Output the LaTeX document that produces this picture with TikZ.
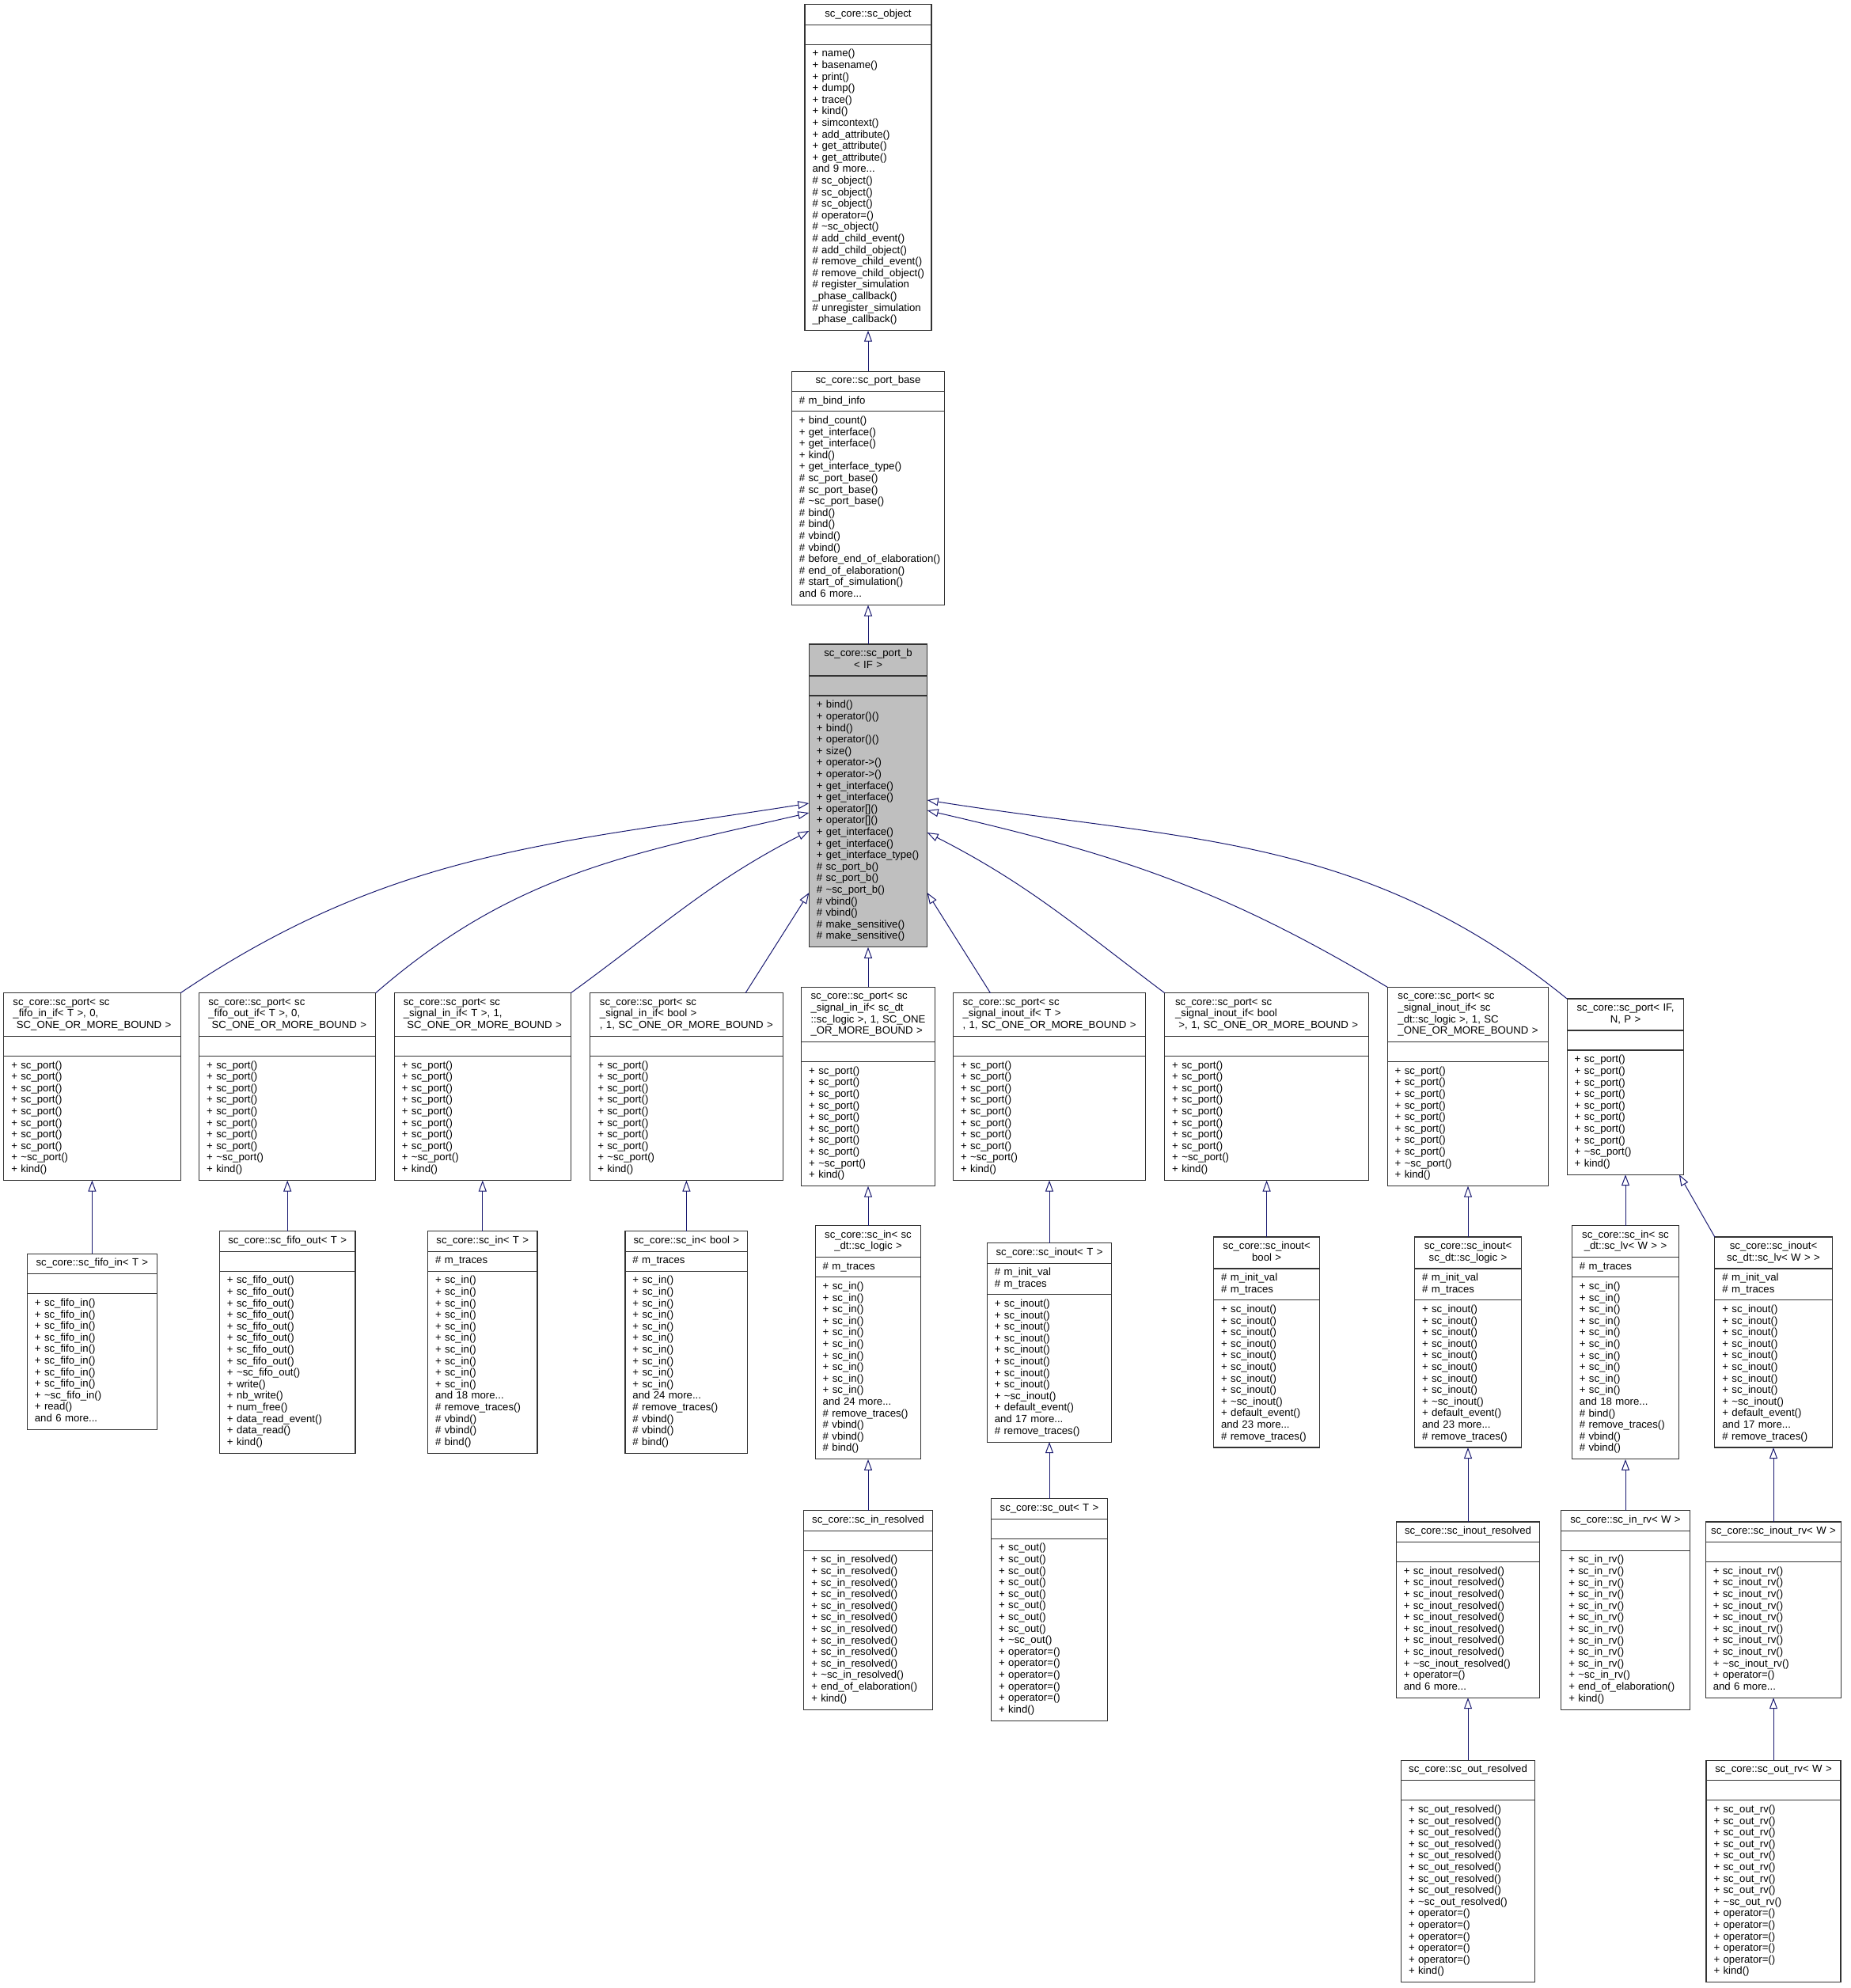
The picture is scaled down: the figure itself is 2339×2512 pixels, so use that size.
\documentclass[tikz,border=0pt]{standalone}
\usepackage{fontspec}
\setmainfont{Liberation Sans}
\usepackage{tikz}
\usetikzlibrary{arrows.meta}
\definecolor{edgeblue}{HTML}{191970}

\newcommand{\rows}[1]{\begin{tabular}{@{}l@{}}#1\end{tabular}}
\newcommand{\crows}[1]{\begin{tabular}{@{}c@{}}#1\end{tabular}}
\newcommand{\eightof}[1]{#1\\#1\\#1\\#1\\#1\\#1\\#1\\#1}
\newcommand{\tenof}[1]{\eightof{#1}\\#1\\#1}
\newcommand{\portops}{\eightof{+ sc\_port()}\\+ \textasciitilde sc\_port()\\+ kind()}
\newcommand{\umlclass}[7][]{%
  \pgfmathsetmacro{\tw}{#4-8}%
  \pgfmathsetmacro{\mw}{#4-19}%
  \node[clstitle,text width=\tw pt,anchor=north,#1] (#2) at (#3) {#5};
  \node[clsbody,text width=\mw pt,anchor=north,inner ysep=5.2pt,#1] (#2a) at (#2.south) {\rows{\strut#6}};
  \node[clsbody,text width=\mw pt,anchor=north,inner ysep=5.6pt,#1] (#2m) at (#2a.south) {\rows{#7}};
}

\begin{document}
\begin{tikzpicture}[x=1pt,y=-1pt,font=\fontsize{13.2}{14.6}\selectfont,
  clstitle/.style={draw=black!80,line width=1.1pt,fill=white,inner xsep=4pt,inner ysep=5.4pt,outer sep=0pt,align=center},
  clsbody/.style={draw=black!80,line width=1.1pt,fill=white,inner xsep=9.5pt,outer sep=0pt,align=left},
  inherit/.style={draw=edgeblue,line width=1pt,-{Triangle[open,length=14pt,width=10pt]}}]
\useasboundingbox (0,0) rectangle (2339,2512);

\umlclass{obj}{1097,5.7}{160}{\crows{sc\_core::sc\_object}}{}{%
+ name()\\+ basename()\\+ print()\\+ dump()\\+ trace()\\+ kind()\\+ simcontext()\\
+ add\_attribute()\\+ get\_attribute()\\+ get\_attribute()\\and 9 more...\\
\# sc\_object()\\\# sc\_object()\\\# sc\_object()\\\# operator=()\\\# \textasciitilde sc\_object()\\
\# add\_child\_event()\\\# add\_child\_object()\\\# remove\_child\_event()\\\# remove\_child\_object()\\
\# register\_simulation\\\_phase\_callback()\\\# unregister\_simulation\\\_phase\_callback()}
\umlclass{portbase}{1097,469.3}{193.3}{\crows{sc\_core::sc\_port\_base}}{\# m\_bind\_info}{%
+ bind\_count()\\+ get\_interface()\\+ get\_interface()\\+ kind()\\+ get\_interface\_type()\\
\# sc\_port\_base()\\\# sc\_port\_base()\\\# \textasciitilde sc\_port\_base()\\\# bind()\\\# bind()\\
\# vbind()\\\# vbind()\\\# before\_end\_of\_elaboration()\\\# end\_of\_elaboration()\\
\# start\_of\_simulation()\\and 6 more...}
\umlclass[fill=gray!50]{portb}{1097,814}{149.4}{\crows{sc\_core::sc\_port\_b\\< IF >}}{}{%
+ bind()\\+ operator()()\\+ bind()\\+ operator()()\\+ size()\\+ operator->()\\+ operator->()\\
+ get\_interface()\\+ get\_interface()\\+ operator[]()\\+ operator[]()\\+ get\_interface()\\
+ get\_interface()\\+ get\_interface\_type()\\\# sc\_port\_b()\\\# sc\_port\_b()\\
\# \textasciitilde sc\_port\_b()\\\# vbind()\\\# vbind()\\\# make\_sensitive()\\\# make\_sensitive()}

\umlclass{pfifoin}{116.4,1254.7}{223.3}{\rows{sc\_core::sc\_port< sc\\\_fifo\_in\_if< T >, 0,\\\ SC\_ONE\_OR\_MORE\_BOUND >}}{}{\portops}
\umlclass{pfifoout}{363.2,1254.7}{223}{\rows{sc\_core::sc\_port< sc\\\_fifo\_out\_if< T >, 0,\\\ SC\_ONE\_OR\_MORE\_BOUND >}}{}{\portops}
\umlclass{psigin}{609.8,1254.7}{223}{\rows{sc\_core::sc\_port< sc\\\_signal\_in\_if< T >, 1,\\\ SC\_ONE\_OR\_MORE\_BOUND >}}{}{\portops}
\umlclass{psiginbool}{867.4,1254.7}{243.3}{\rows{sc\_core::sc\_port< sc\\\_signal\_in\_if< bool >\\, 1, SC\_ONE\_OR\_MORE\_BOUND >}}{}{\portops}
\umlclass{psiginlogic}{1097,1247.3}{168.7}{\rows{sc\_core::sc\_port< sc\\\_signal\_in\_if< sc\_dt\\::sc\_logic >, 1, SC\_ONE\\\_OR\_MORE\_BOUND >}}{}{\portops}
\umlclass{psiginout}{1326,1254.7}{243}{\rows{sc\_core::sc\_port< sc\\\_signal\_inout\_if< T >\\, 1, SC\_ONE\_OR\_MORE\_BOUND >}}{}{\portops}
\umlclass{psiginoutbool}{1600.6,1254.7}{257.8}{\rows{sc\_core::sc\_port< sc\\\_signal\_inout\_if< bool\\\ >, 1, SC\_ONE\_OR\_MORE\_BOUND >}}{}{\portops}
\umlclass{psiginoutlogic}{1855,1247.3}{203.7}{\rows{sc\_core::sc\_port< sc\\\_signal\_inout\_if< sc\\\_dt::sc\_logic >, 1, SC\\\_ONE\_OR\_MORE\_BOUND >}}{}{\portops}
\umlclass{pgeneric}{2054,1262}{147.7}{\crows{sc\_core::sc\_port< IF,\\N, P >}}{}{\portops}

\umlclass{fifoin}{116.4,1584.3}{164}{\crows{sc\_core::sc\_fifo\_in< T >}}{}{\eightof{+ sc\_fifo\_in()}\\+ \textasciitilde sc\_fifo\_in()\\+ read()\\and 6 more...}
\umlclass{fifoout}{363.2,1555.7}{171.5}{\crows{sc\_core::sc\_fifo\_out< T >}}{}{\eightof{+ sc\_fifo\_out()}\\+ \textasciitilde sc\_fifo\_out()\\+ write()\\+ nb\_write()\\+ num\_free()\\+ data\_read\_event()\\+ data\_read()\\+ kind()}
\umlclass{scin}{609.8,1555.7}{138.4}{\crows{sc\_core::sc\_in< T >}}{\# m\_traces}{\tenof{+ sc\_in()}\\and 18 more...\\\# remove\_traces()\\\# vbind()\\\# vbind()\\\# bind()}
\umlclass{scinbool}{867.4,1555.7}{154.9}{\crows{sc\_core::sc\_in< bool >}}{\# m\_traces}{\tenof{+ sc\_in()}\\and 24 more...\\\# remove\_traces()\\\# vbind()\\\# vbind()\\\# bind()}
\umlclass{scinlogic}{1097,1548.7}{133.6}{\crows{sc\_core::sc\_in< sc\\\_dt::sc\_logic >}}{\# m\_traces}{\tenof{+ sc\_in()}\\and 24 more...\\\# remove\_traces()\\\# vbind()\\\# vbind()\\\# bind()}
\umlclass{scinout}{1326,1570.7}{157.4}{\crows{sc\_core::sc\_inout< T >}}{\# m\_init\_val\\\# m\_traces}{\eightof{+ sc\_inout()}\\+ \textasciitilde sc\_inout()\\+ default\_event()\\and 17 more...\\\# remove\_traces()}
\umlclass{scinoutbool}{1600.6,1563}{134.1}{\crows{sc\_core::sc\_inout<\\bool >}}{\# m\_init\_val\\\# m\_traces}{\eightof{+ sc\_inout()}\\+ \textasciitilde sc\_inout()\\+ default\_event()\\and 23 more...\\\# remove\_traces()}
\umlclass{scinoutlogic}{1855,1563}{135}{\crows{sc\_core::sc\_inout<\\sc\_dt::sc\_logic >}}{\# m\_init\_val\\\# m\_traces}{\eightof{+ sc\_inout()}\\+ \textasciitilde sc\_inout()\\+ default\_event()\\and 23 more...\\\# remove\_traces()}
\umlclass{scinlv}{2054,1548.7}{135.3}{\crows{sc\_core::sc\_in< sc\\\_dt::sc\_lv< W > >}}{\# m\_traces}{\tenof{+ sc\_in()}\\and 18 more...\\\# bind()\\\# remove\_traces()\\\# vbind()\\\# vbind()}
\umlclass{scinoutlv}{2241,1563}{148.3}{\crows{sc\_core::sc\_inout<\\sc\_dt::sc\_lv< W > >}}{\# m\_init\_val\\\# m\_traces}{\eightof{+ sc\_inout()}\\+ \textasciitilde sc\_inout()\\+ default\_event()\\and 17 more...\\\# remove\_traces()}

\umlclass{scinresolved}{1097,1908.7}{162.5}{\crows{sc\_core::sc\_in\_resolved}}{}{\tenof{+ sc\_in\_resolved()}\\+ \textasciitilde sc\_in\_resolved()\\+ end\_of\_elaboration()\\+ kind()}
\umlclass{scout}{1326,1893.7}{146.9}{\crows{sc\_core::sc\_out< T >}}{}{\eightof{+ sc\_out()}\\+ \textasciitilde sc\_out()\\+ operator=()\\+ operator=()\\+ operator=()\\+ operator=()\\+ operator=()\\+ kind()}
\umlclass{scinoutresolved}{1855,1923}{181.5}{\crows{sc\_core::sc\_inout\_resolved}}{}{\eightof{+ sc\_inout\_resolved()}\\+ \textasciitilde sc\_inout\_resolved()\\+ operator=()\\and 6 more...}
\umlclass{scinrv}{2054,1908.7}{162.5}{\crows{sc\_core::sc\_in\_rv< W >}}{}{\tenof{+ sc\_in\_rv()}\\+ \textasciitilde sc\_in\_rv()\\+ end\_of\_elaboration()\\+ kind()}
\umlclass{scinoutrv}{2241,1923}{171.5}{\crows{sc\_core::sc\_inout\_rv< W >}}{}{\eightof{+ sc\_inout\_rv()}\\+ \textasciitilde sc\_inout\_rv()\\+ operator=()\\and 6 more...}

\umlclass{scoutresolved}{1855,2224.3}{169}{\crows{sc\_core::sc\_out\_resolved}}{}{\eightof{+ sc\_out\_resolved()}\\+ \textasciitilde sc\_out\_resolved()\\+ operator=()\\+ operator=()\\+ operator=()\\+ operator=()\\+ operator=()\\+ kind()}
\umlclass{scoutrv}{2241,2224.3}{170}{\crows{sc\_core::sc\_out\_rv< W >}}{}{\eightof{+ sc\_out\_rv()}\\+ \textasciitilde sc\_out\_rv()\\+ operator=()\\+ operator=()\\+ operator=()\\+ operator=()\\+ operator=()\\+ kind()}

\draw[inherit] (portbase.north) -- (objm.south);
\draw[inherit] (portb.north) -- (portbasem.south);
\draw[inherit] (pfifoin.north east) to[out=34,in=189] ([yshift=-201pt]portb.north west);
\draw[inherit] (pfifoout.north east) to[out=41,in=193] ([yshift=-213pt]portb.north west);
\draw[inherit] (psigin.north east) to[out=36,in=207] ([yshift=-236pt]portb.north west);
\draw[inherit] ([xshift=-47pt]psiginbool.north east) -- ([yshift=-314pt]portb.north west);
\draw[inherit] (psiginlogic.north) -- (portbm.south);
\draw[inherit] ([xshift=47pt]psiginout.north west) -- ([yshift=-314pt]portb.north east);
\draw[inherit] (psiginoutbool.north west) to[out=143,in=333] ([yshift=-238pt]portb.north east);
\draw[inherit] (psiginoutlogic.north west) to[out=149,in=347] ([yshift=-210pt]portb.north east);
\draw[inherit] (pgeneric.north west) to[out=141,in=351] ([yshift=-197pt]portb.north east);
\draw[inherit] (fifoin.north) -- (pfifoinm.south);
\draw[inherit] (fifoout.north) -- (pfifooutm.south);
\draw[inherit] (scin.north) -- (psiginm.south);
\draw[inherit] (scinbool.north) -- (psiginboolm.south);
\draw[inherit] (scinlogic.north) -- (psiginlogicm.south);
\draw[inherit] (scinout.north) -- (psiginoutm.south);
\draw[inherit] (scinoutbool.north) -- (psiginoutboolm.south);
\draw[inherit] (scinoutlogic.north) -- (psiginoutlogicm.south);
\draw[inherit] (scinlv.north) -- (pgenericm.south);
\draw[inherit] (scinoutlv.north west) -- ([xshift=-6pt]pgenericm.south east);
\draw[inherit] (scinresolved.north) -- (scinlogicm.south);
\draw[inherit] (scout.north) -- (scinoutm.south);
\draw[inherit] (scinoutresolved.north) -- (scinoutlogicm.south);
\draw[inherit] (scinrv.north) -- (scinlvm.south);
\draw[inherit] (scinoutrv.north) -- (scinoutlvm.south);
\draw[inherit] (scoutresolved.north) -- (scinoutresolvedm.south);
\draw[inherit] (scoutrv.north) -- (scinoutrvm.south);
\end{tikzpicture}
\end{document}
